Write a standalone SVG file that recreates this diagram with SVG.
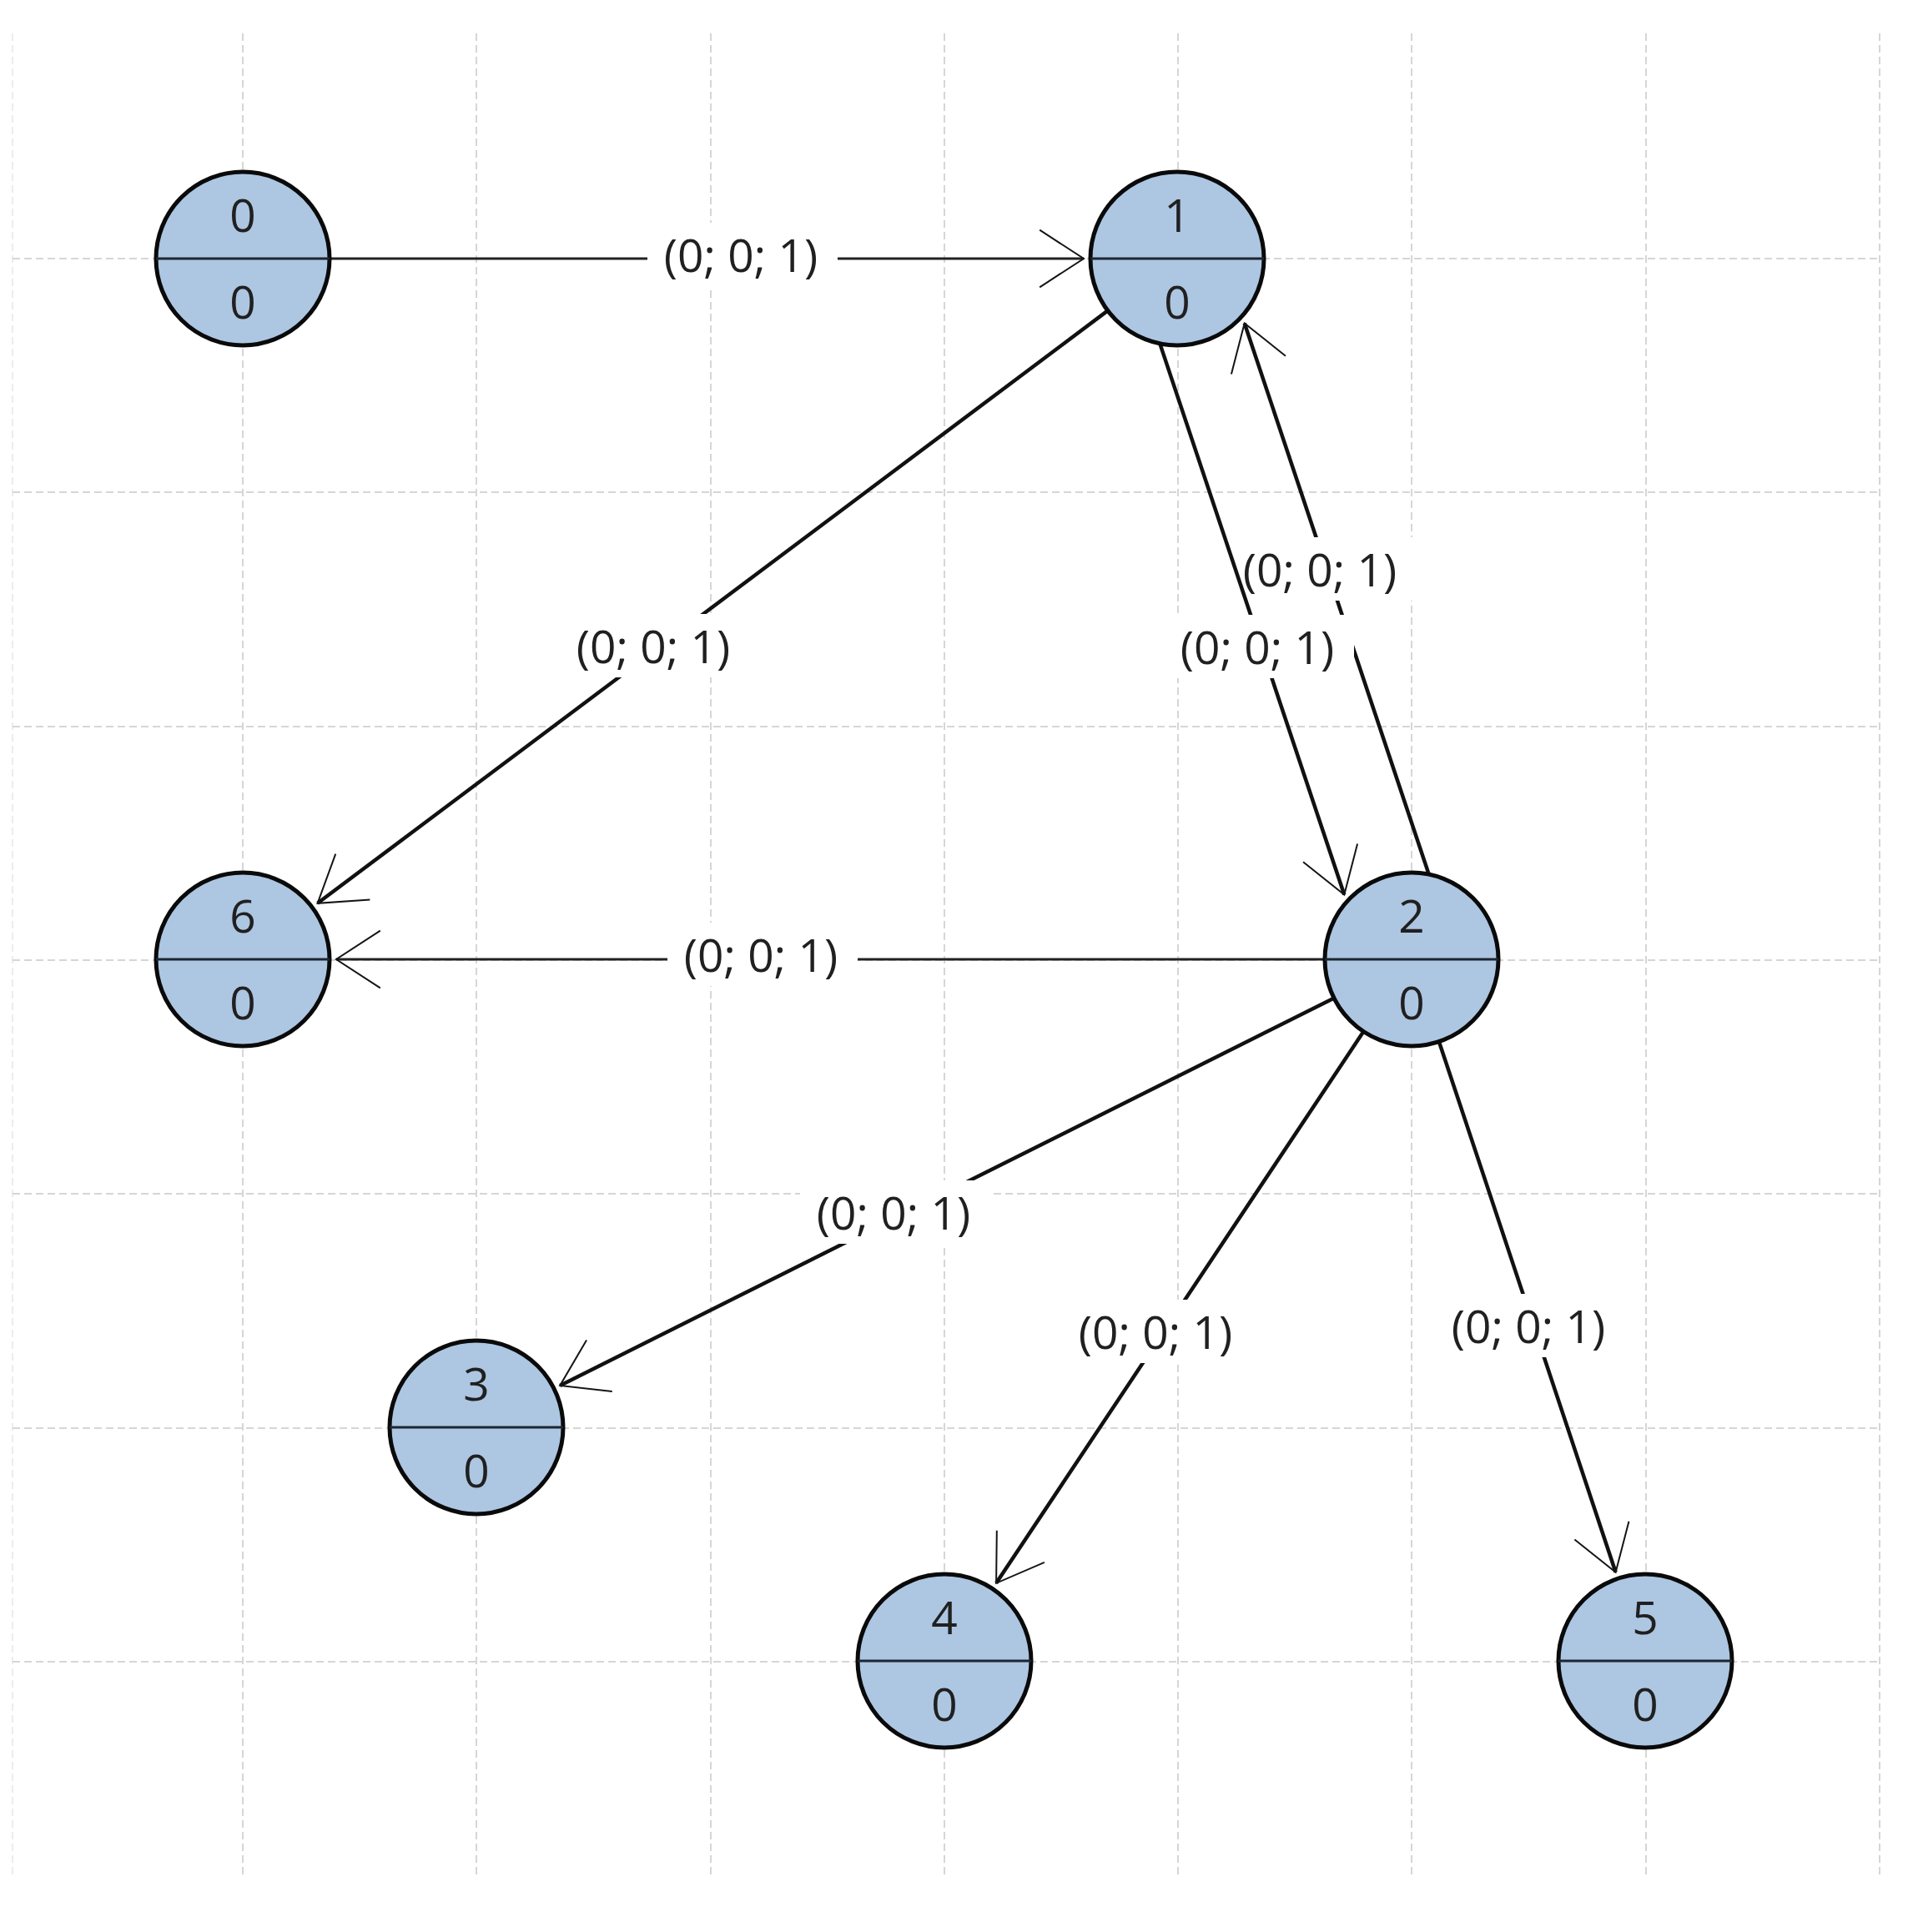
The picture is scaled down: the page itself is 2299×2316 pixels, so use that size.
<svg xmlns="http://www.w3.org/2000/svg" width="2299" height="2316" viewBox="0 0 2299 2316">
<style>
.grid line{stroke:#d6d6d6;stroke-width:2;stroke-dasharray:9 5}
.edge{stroke:#111111;stroke-width:4.5;fill:none;marker-end:url(#arr)}
.edge.h{stroke:#222222;stroke-width:3}
.lbg{fill:#ffffff}
.lbl{font-family:"Open Sans","Noto Sans","DejaVu Sans",sans-serif;font-size:55px;fill:#202020;text-anchor:middle}
.node circle{fill:#adc6e2;stroke:#0a0a0a;stroke-width:5}
.node line{stroke:#1c2630;stroke-width:3}
.node text{font-family:"Open Sans","Noto Sans","DejaVu Sans",sans-serif;font-size:55px;fill:#202020;text-anchor:middle}
</style>
<defs>
<marker id="arr" markerUnits="userSpaceOnUse" viewBox="-60 -40 64 80" markerWidth="64" markerHeight="80" refX="0" refY="0" orient="auto" overflow="visible">
<path d="M-52.8,-34.3 L0,0 L-52.8,34.3" fill="none" stroke="#151515" stroke-width="2"/>
</marker>
</defs>
<rect x="0" y="0" width="2299" height="2316" fill="#ffffff"/>
<g class="grid">
<line x1="15" y1="40" x2="15" y2="2250" style="stroke:#ececec"/>
<line x1="291" y1="40" x2="291" y2="2250"/>
<line x1="571" y1="40" x2="571" y2="2250"/>
<line x1="852" y1="40" x2="852" y2="2250"/>
<line x1="1132" y1="40" x2="1132" y2="2250"/>
<line x1="1412" y1="40" x2="1412" y2="2250"/>
<line x1="1692" y1="40" x2="1692" y2="2250"/>
<line x1="1973" y1="40" x2="1973" y2="2250"/>
<line x1="2253" y1="40" x2="2253" y2="2250"/>
<line x1="15" y1="310" x2="2253" y2="310"/>
<line x1="15" y1="590" x2="2253" y2="590"/>
<line x1="15" y1="871" x2="2253" y2="871"/>
<line x1="15" y1="1151" x2="2253" y2="1151"/>
<line x1="15" y1="1431" x2="2253" y2="1431"/>
<line x1="15" y1="1712" x2="2253" y2="1712"/>
<line x1="15" y1="1992" x2="2253" y2="1992"/>
</g>
<g id="connectors">
<g id="e0-1">
<line class="edge h" x1="395" y1="310" x2="1299" y2="310"/>
<rect class="lbg" x="776" y="267" width="228" height="76"/>
<text class="lbl" x="888" y="326">(0; 0; 1)</text>
</g>
<g id="e1-6">
<line class="edge" x1="1327.8" y1="372.4" x2="380.6" y2="1082.8"/>
<rect class="lbg" x="671" y="736" width="228" height="76"/>
<text class="lbl" x="783" y="795">(0; 0; 1)</text>
</g>
<g id="e2-1">
<line class="edge" x1="1712.7" y1="1048.1" x2="1491.7" y2="387.5"/>
<rect class="lbg" x="1470" y="644" width="228" height="76"/>
<text class="lbl" x="1582" y="703">(0; 0; 1)</text>
</g>
<g id="e1-2">
<line class="edge" x1="1390.3" y1="411.9" x2="1611.3" y2="1072.5"/>
<rect class="lbg" x="1395" y="737" width="228" height="76"/>
<text class="lbl" x="1507" y="796">(0; 0; 1)</text>
</g>
<g id="e2-6">
<line class="edge h" x1="1588" y1="1150" x2="403" y2="1150"/>
<rect class="lbg" x="800" y="1106" width="228" height="76"/>
<text class="lbl" x="912" y="1165">(0; 0; 1)</text>
</g>
<g id="e2-3">
<line class="edge" x1="1599" y1="1196.5" x2="671.2" y2="1660.9"/>
<rect class="lbg" x="959" y="1415" width="228" height="76"/>
<text class="lbl" x="1071" y="1474">(0; 0; 1)</text>
</g>
<g id="e2-4">
<line class="edge" x1="1634.4" y1="1236.6" x2="1194.1" y2="1897.8"/>
<rect class="lbg" x="1273" y="1558" width="228" height="76"/>
<text class="lbl" x="1385" y="1617">(0; 0; 1)</text>
</g>
<g id="e2-5">
<line class="edge" x1="1724.9" y1="1248.7" x2="1936.6" y2="1884.7"/>
<rect class="lbg" x="1720" y="1551" width="228" height="76"/>
<text class="lbl" x="1832" y="1610">(0; 0; 1)</text>
</g>
</g>
<g id="node0" class="node">
<circle cx="291" cy="310" r="104"/>
<line x1="187" y1="310" x2="395" y2="310"/>
<text x="291" y="278">0</text>
<text x="291" y="382">0</text>
</g>
<g id="node1" class="node">
<circle cx="1411" cy="310" r="104"/>
<line x1="1307" y1="310" x2="1515" y2="310"/>
<text x="1411" y="278">1</text>
<text x="1411" y="382">0</text>
</g>
<g id="node2" class="node">
<circle cx="1692" cy="1150" r="104"/>
<line x1="1588" y1="1150" x2="1796" y2="1150"/>
<text x="1692" y="1118">2</text>
<text x="1692" y="1222">0</text>
</g>
<g id="node3" class="node">
<circle cx="571" cy="1711" r="104"/>
<line x1="467" y1="1711" x2="675" y2="1711"/>
<text x="571" y="1679">3</text>
<text x="571" y="1783">0</text>
</g>
<g id="node4" class="node">
<circle cx="1132" cy="1991" r="104"/>
<line x1="1028" y1="1991" x2="1236" y2="1991"/>
<text x="1132" y="1959">4</text>
<text x="1132" y="2063">0</text>
</g>
<g id="node5" class="node">
<circle cx="1972" cy="1991" r="104"/>
<line x1="1868" y1="1991" x2="2076" y2="1991"/>
<text x="1972" y="1959">5</text>
<text x="1972" y="2063">0</text>
</g>
<g id="node6" class="node">
<circle cx="291" cy="1150" r="104"/>
<line x1="187" y1="1150" x2="395" y2="1150"/>
<text x="291" y="1118">6</text>
<text x="291" y="1222">0</text>
</g>
</svg>
